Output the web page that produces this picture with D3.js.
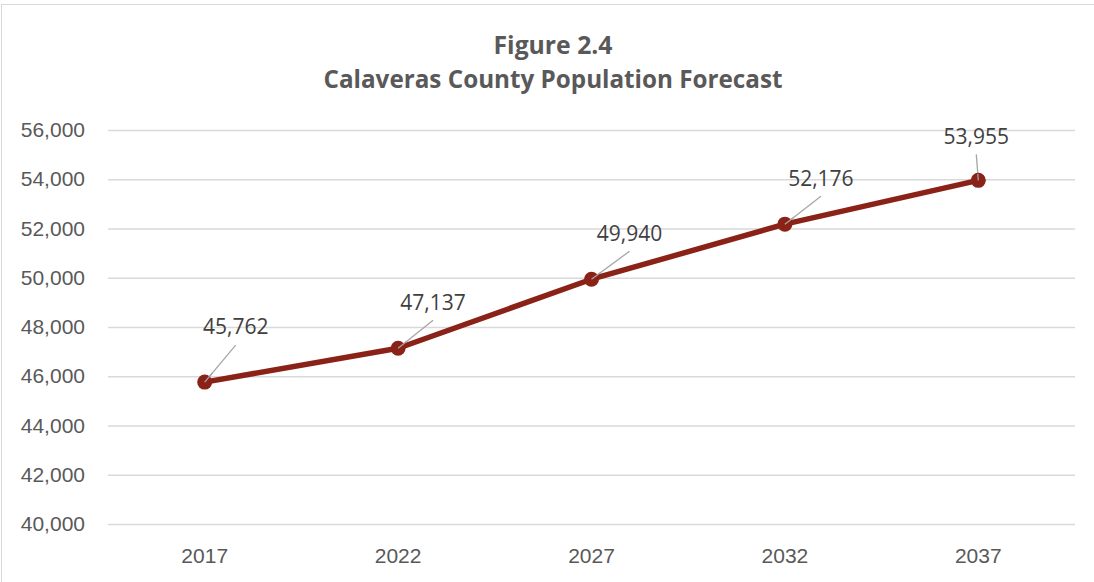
<!DOCTYPE html>
<html>
<head>
<meta charset="utf-8">
<script src="https://cdn.jsdelivr.net/npm/d3@7"></script>
<style>
  body { margin: 0; background: #fff; }
  svg { display: block; font-family: "Open Sans", sans-serif; }
</style>
</head>
<body>
<svg width="1094" height="582"></svg>
<script>
const years = ['2017', '2022', '2027', '2032', '2037'];
const population = [45762, 47137, 49940, 52176, 53955];
const yTicks = [40000, 42000, 44000, 46000, 48000, 50000, 52000, 54000, 56000];

// where each data label sits relative to its point (dx, dy)
const labelOffsets = [[31, -55], [35, -46], [38, -46], [36, -46], [-2, -44]];

(function (d3) {
  'use strict';

  const svg = d3.select('svg');
  const width = +svg.attr('width');
  const height = +svg.attr('height');

  const margin = { top: 130, right: 19, bottom: 58, left: 108 };
  const innerWidth = width - margin.left - margin.right;

  // chart frame
  svg.append('rect')
    .attr('x', 1.5).attr('y', 4.5)
    .attr('width', width + 10).attr('height', height + 10)
    .attr('fill', 'none')
    .attr('stroke', '#d9d9d9');

  // title
  const titleLines = [
    { text: 'Figure 2.4', y: 54, len: 119 },
    { text: 'Calaveras County Population Forecast', y: 88, len: 459 }
  ];
  svg.append('g')
    .selectAll('text')
    .data(titleLines)
    .enter().append('text')
      .attr('x', 553)
      .attr('y', d => d.y)
      .attr('text-anchor', 'middle')
      .attr('fill', '#595959')
      .attr('textLength', d => d.len)
      .attr('lengthAdjust', 'spacingAndGlyphs')
      .style('font-family', '"Liberation Sans Narrow", "Open Sans", sans-serif')
      .style('font-weight', 'bold')
      .style('font-size', '25px')
      .text(d => d.text);

  const xScale = d3.scaleBand()
    .domain(years)
    .range([margin.left, margin.left + innerWidth]);

  const yScale = d3.scaleLinear()
    .domain([40000, 56000])
    .range([524, 130]);

  const yAxis = d3.axisLeft(yScale)
    .tickValues(yTicks)
    .tickSize(-innerWidth)
    .tickPadding(23)
    .tickFormat(d3.format(','));

  const yAxisG = svg.append('g')
    .attr('transform', `translate(${margin.left},0)`)
    .call(yAxis);
  yAxisG.select('.domain').remove();
  yAxisG.selectAll('.tick line')
    .attr('stroke', '#d9d9d9')
    .attr('stroke-width', 1.3);
  yAxisG.selectAll('.tick text')
    .attr('fill', '#595959')
    .style('font-size', '21px');

  const xAxis = d3.axisBottom(xScale)
    .tickSize(0)
    .tickPadding(24);

  const xAxisG = svg.append('g')
    .attr('transform', `translate(0,524)`)
    .call(xAxis);
  xAxisG.select('.domain').remove();
  xAxisG.selectAll('.tick text')
    .attr('fill', '#595959')
    .style('font-size', '21px');

  const cx = (d, i) => xScale(years[i]) + xScale.bandwidth() / 2;
  const cy = d => yScale(d);

  // leader lines
  svg.append('g')
    .selectAll('line')
    .data(population)
    .enter().append('line')
      .attr('x1', (d, i) => cx(d, i))
      .attr('y1', d => cy(d))
      .attr('x2', (d, i) => cx(d, i) + labelOffsets[i][0])
      .attr('y2', (d, i) => cy(d) + labelOffsets[i][1] + 18)
      .attr('stroke', '#a6a6a6')
      .attr('stroke-width', 1.3);

  const line = d3.line()
    .x((d, i) => cx(d, i))
    .y(d => cy(d));

  svg.append('path')
    .datum(population)
    .attr('d', line)
    .attr('fill', 'none')
    .attr('stroke', '#8b2218')
    .attr('stroke-width', 5.5)
    .attr('stroke-linejoin', 'round');

  svg.append('g')
    .selectAll('circle')
    .data(population)
    .enter().append('circle')
      .attr('cx', (d, i) => cx(d, i))
      .attr('cy', d => cy(d))
      .attr('r', 7.5)
      .attr('fill', '#8b2218');

  // redraw leader tips on top of the markers, as in the original
  svg.append('g')
    .selectAll('line')
    .data(population)
    .enter().append('line')
      .attr('x1', (d, i) => cx(d, i))
      .attr('y1', d => cy(d))
      .attr('x2', (d, i) => cx(d, i) + labelOffsets[i][0] * 0.25)
      .attr('y2', (d, i) => cy(d) + (labelOffsets[i][1] + 18) * 0.25)
      .attr('stroke', '#a6a6a6')
      .attr('stroke-width', 1.3);

  svg.append('g')
    .selectAll('text')
    .data(population)
    .enter().append('text')
      .attr('x', (d, i) => cx(d, i) + labelOffsets[i][0])
      .attr('y', (d, i) => cy(d) + labelOffsets[i][1])
      .attr('dy', '0.35em')
      .attr('text-anchor', 'middle')
      .attr('fill', '#404040')
      .style('font-size', '21px')
      .text(d3.format(','));

}(d3));
</script>
</body>
</html>
